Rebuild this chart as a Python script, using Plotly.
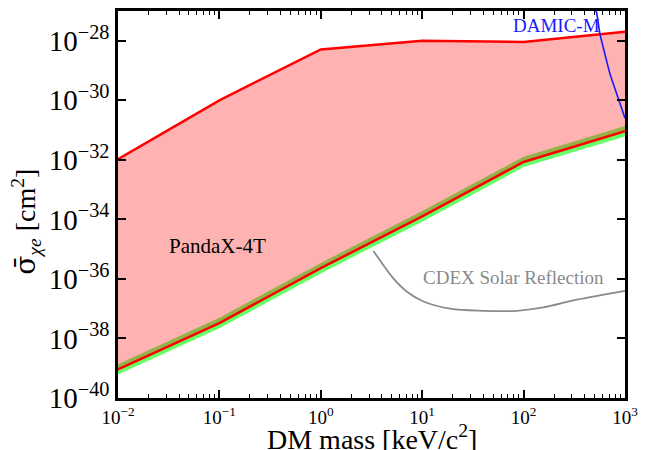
import plotly.graph_objects as go

# ---- data ----
mass = [1e-2, 1e-1, 1e0, 1e1, 1e2, 1e3]
pandax_upper = [1.05e-32, 1.0e-30, 5.1e-29, 1.0e-28, 9.1e-29, 2.0e-28]
pandax_lower = [9.1e-40, 3.3e-38, 2.3e-36, 1.26e-34, 8.5e-33, 9.1e-32]
band_low = [6.1e-40, 2.2e-38, 1.53e-36, 8.4e-35, 5.7e-33, 6.1e-32]
band_high = [1.37e-39, 5.0e-38, 3.45e-36, 1.9e-34, 1.28e-32, 1.37e-31]

cdex_mass = [3.3, 4.13, 5.19, 7.03, 10.3, 18.8, 40.1, 85.5, 156, 334, 1000]
cdex_xs = [8.7e-36, 2.95e-36, 1.05e-36, 3.8e-37, 1.74e-37, 1.0e-37, 8.5e-38, 8.5e-38, 1.1e-37, 2.0e-37, 4.0e-37]

damic_mass = [515, 526, 566, 611, 659, 711, 796, 859, 927, 977, 1000]
damic_xs = [1.0e-27, 8.7e-28, 1.66e-28, 5.2e-29, 2.1e-29, 7.6e-30, 2.4e-30, 1.1e-30, 5.9e-31, 3.1e-31, 2.5e-31]

x_tickvals = [1e-2, 1e-1, 1e0, 1e1, 1e2, 1e3]
x_ticktext = ["10<sup>−2</sup>", "10<sup>−1</sup>", "10<sup>0</sup>", "10<sup>1</sup>", "10<sup>2</sup>", "10<sup>3</sup>"]
y_tickvals = [1e-40, 1e-38, 1e-36, 1e-34, 1e-32, 1e-30, 1e-28]
y_ticktext = ["10<sup>−40</sup>", "10<sup>−38</sup>", "10<sup>−36</sup>", "10<sup>−34</sup>",
              "10<sup>−32</sup>", "10<sup>−30</sup>", "10<sup>−28</sup>"]

FONT = "Liberation Serif"

fig = go.Figure()
# green band
fig.add_trace(go.Scatter(x=mass, y=band_low, mode="lines", line=dict(width=0),
                         showlegend=False, hoverinfo="skip"))
fig.add_trace(go.Scatter(x=mass, y=band_high, mode="lines", line=dict(width=0),
                         fill="tonexty", fillcolor="rgb(102,255,102)",
                         showlegend=False, hoverinfo="skip"))
# excluded region
fig.add_trace(go.Scatter(x=mass, y=pandax_lower, mode="lines", line=dict(width=0),
                         showlegend=False, hoverinfo="skip"))
fig.add_trace(go.Scatter(x=mass, y=pandax_upper, mode="lines", line=dict(width=0),
                         fill="tonexty", fillcolor="rgba(255,0,0,0.3)",
                         showlegend=False, hoverinfo="skip"))
# red lines
fig.add_trace(go.Scatter(x=mass, y=pandax_lower, mode="lines",
                         line=dict(color="#ff0000", width=2.5), showlegend=False))
fig.add_trace(go.Scatter(x=mass, y=pandax_upper, mode="lines",
                         line=dict(color="#ff0000", width=2.5), showlegend=False))
# CDEX
fig.add_trace(go.Scatter(x=cdex_mass, y=cdex_xs, mode="lines", line_shape="spline",
                         line=dict(color="#8a8a8a", width=1.8), showlegend=False))
# DAMIC-M
fig.add_trace(go.Scatter(x=damic_mass, y=damic_xs, mode="lines",
                         line=dict(color="#1a1aff", width=1.6), showlegend=False))

minor_x = [m * 10.0 ** e for e in range(-2, 3) for m in range(2, 10)]

fig.update_xaxes(type="log", range=[-2, 3], tickvals=x_tickvals, ticktext=x_ticktext,
                 ticks="inside", ticklen=8, tickwidth=1.5, tickcolor="black",
                 showline=True, linecolor="black", linewidth=2.5, mirror="ticks",
                 showgrid=False, zeroline=False,
                 tickfont=dict(family=FONT, size=19, color="black"),
                 minor=dict(tickvals=minor_x, ticks="inside", ticklen=4, tickwidth=1,
                            tickcolor="black", showgrid=False))
fig.update_yaxes(type="log", range=[-40, -27], tickvals=y_tickvals, ticktext=y_ticktext,
                 ticks="inside", ticklen=8, tickwidth=1.5, tickcolor="black",
                 showline=True, linecolor="black", linewidth=2.5, mirror="ticks",
                 showgrid=False, zeroline=False,
                 tickfont=dict(family=FONT, size=29, color="black"))

fig.add_annotation(x=-1.014, y=-34.88, xref="x", yref="y", text="PandaX-4T", showarrow=False,
                   font=dict(family=FONT, size=21, color="black"))
fig.add_annotation(x=1.896, y=-35.95, xref="x", yref="y", text="CDEX Solar Reflection",
                   showarrow=False, font=dict(family=FONT, size=19, color="#8a8a8a"))
fig.add_annotation(x=2.32, y=-27.49, xref="x", yref="y", text="DAMIC-M", showarrow=False,
                   font=dict(family=FONT, size=19, color="#1a1aff"))
# axis titles
fig.add_annotation(x=0.5, y=-0.1026, xref="paper", yref="paper", yanchor="middle",
                   text="DM mass [keV/c<sup>2</sup>]", showarrow=False,
                   font=dict(family=FONT, size=28, color="black"))
fig.add_annotation(x=-0.181, y=0.456, xref="paper", yref="paper", textangle=-90,
                   xanchor="center", yanchor="middle",
                   text="<span style=\"font-family:'DejaVu Serif'\">σ\u0304</span><sub><i>χe</i></sub> [cm<sup>2</sup>]",
                   showarrow=False,
                   font=dict(family=FONT, size=28, color="black"))

# page body has an 8px margin: shift the plot area so it lands where the reference has it
fig.update_layout(width=654, height=450, margin=dict(l=110, r=37, t=0, b=60),
                  plot_bgcolor="white", paper_bgcolor="white",
                  font=dict(family=FONT, color="black"))
fig.write_html("out.html")
